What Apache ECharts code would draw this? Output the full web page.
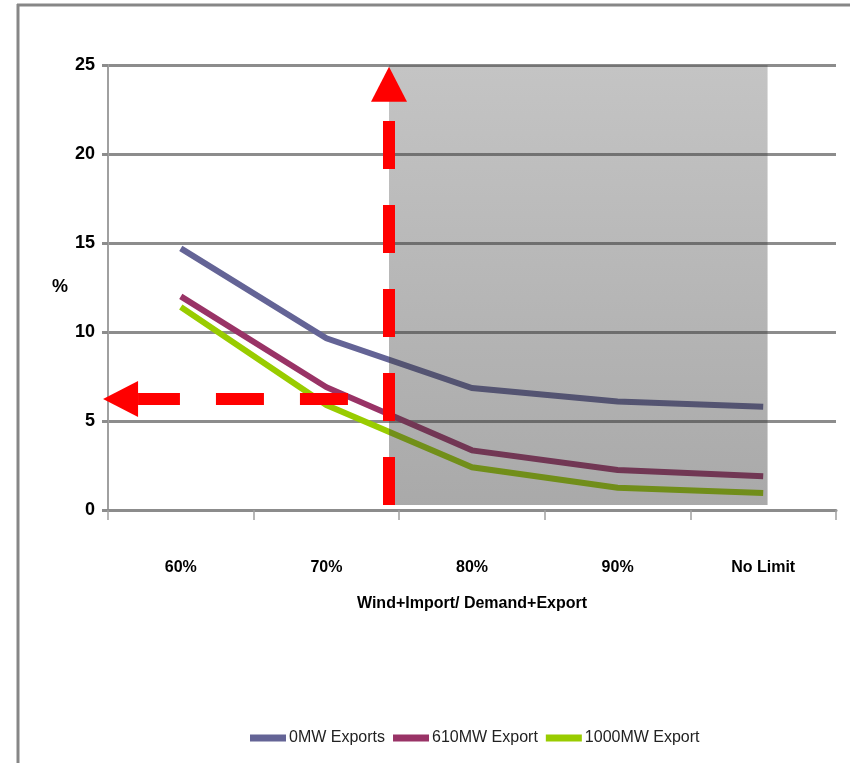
<!DOCTYPE html>
<html>
<head>
<meta charset="utf-8">
<title>Wind+Import / Demand+Export</title>
<script src="https://cdn.jsdelivr.net/npm/echarts@6/dist/echarts.min.js"></script>
<style>
  html, body { margin: 0; padding: 0; background: #ffffff; }
  #chart { width: 850px; height: 763px; }
</style>
</head>
<body>
<div id="chart"></div>
<script>
// Curtailment (%) against the Wind+Import / Demand+Export limit
const categories = ['60%', '70%', '80%', '90%', 'No Limit'];
const exports0MW = [14.7, 9.65, 6.85, 6.1, 5.8];
const exports610MW = [12.0, 6.9, 3.35, 2.25, 1.9];
const exports1000MW = [11.4, 5.9, 2.4, 1.25, 0.95];
const seriesNames = ['0MW Exports', '610MW Export', '1000MW Export'];
const yTicks = { min: 0, max: 25, interval: 5 };

// Annotations in axis units: x counts category bands (0..5), y is %.
const shadedRegion = [[1.93, 0.28, 4.53, 25]];
const arrows = [
  [1.93, 0.28, 1.93, 24.9],   // vertical arrow, tail -> tip
  [1.648, 6.24, -0.034, 6.24] // horizontal arrow, tail -> tip
];

const FONT = "'Liberation Sans Narrow', 'Liberation Sans', Arial, sans-serif";
const chart = echarts.init(document.getElementById('chart'), null, { renderer: 'canvas' });

// Dashed shaft + triangular head, measured in pixels along the arrow.
function renderArrow(params, api) {
  const p0 = api.coord([api.value(0), api.value(1)]);
  const p1 = api.coord([api.value(2), api.value(3)]);
  const dx = p1[0] - p0[0], dy = p1[1] - p0[1];
  const len = Math.sqrt(dx * dx + dy * dy);
  const ux = dx / len, uy = dy / len;
  const nx = -uy, ny = ux;
  const headLen = 35, headHalf = 18, shaftHalf = 6, dash = 48, gap = 36;
  const shaftLen = len - headLen;
  const pt = (s, o) => [p0[0] + ux * s + nx * o, p0[1] + uy * s + ny * o];
  const children = [];
  for (let s = 0; s < shaftLen; s += dash + gap) {
    const e = Math.min(s + dash, shaftLen);
    children.push({
      type: 'polygon',
      shape: { points: [pt(s, -shaftHalf), pt(e, -shaftHalf), pt(e, shaftHalf), pt(s, shaftHalf)] },
      style: { fill: '#ff0000' }
    });
  }
  children.push({
    type: 'polygon',
    shape: { points: [pt(shaftLen, -headHalf), pt(len, 0), pt(shaftLen, headHalf)] },
    style: { fill: '#ff0000' }
  });
  return { type: 'group', children: children };
}

function renderShade(params, api) {
  const a = api.coord([api.value(0), api.value(1)]);
  const b = api.coord([api.value(2), api.value(3)]);
  return {
    type: 'rect',
    shape: { x: a[0], y: b[1], width: b[0] - a[0], height: a[1] - b[1] },
    style: {
      fill: new echarts.graphic.LinearGradient(0, 0, 0, 1, [
        { offset: 0, color: 'rgba(60,60,60,0.30)' },
        { offset: 1, color: 'rgba(60,60,60,0.44)' }
      ])
    }
  };
}

const lineColors = ['#646496', '#993366', '#99cc00'];
const values = [exports0MW, exports610MW, exports1000MW];

const option = {
  animation: false,
  backgroundColor: '#ffffff',
  textStyle: { fontFamily: FONT },
  graphic: [
    { type: 'line', shape: { x1: 17, y1: 5, x2: 850, y2: 5 }, style: { stroke: '#878787', lineWidth: 3 }, silent: true },
    { type: 'line', shape: { x1: 18, y1: 4, x2: 18, y2: 763 }, style: { stroke: '#878787', lineWidth: 3 }, silent: true }
  ],
  grid: { left: 108, right: 14, top: 65, bottom: 253, containLabel: false },
  legend: {
    left: 245,
    top: 725,
    itemWidth: 36,
    itemHeight: 7,
    itemGap: 8,
    icon: 'rect',
    textStyle: { fontFamily: FONT, fontSize: 16, color: '#222222', padding: [0, 0, 0, -2] },
    data: seriesNames
  },
  xAxis: [
    {
      type: 'category',
      data: categories,
      boundaryGap: true,
      name: 'Wind+Import/ Demand+Export',
      nameLocation: 'middle',
      nameGap: 86,
      nameTextStyle: { fontFamily: FONT, fontSize: 16, fontWeight: 'bold', color: '#000000' },
      axisLine: { lineStyle: { color: '#8c8c8c', width: 3 } },
      axisTick: { show: true, length: 10, alignWithLabel: false, lineStyle: { color: '#a0a0a0', width: 1.5 } },
      axisLabel: { margin: 50, fontFamily: FONT, fontSize: 16, fontWeight: 'bold', color: '#000000' },
      splitLine: { show: false }
    },
    { type: 'value', min: 0, max: 5, show: false }
  ],
  yAxis: {
    type: 'value',
    min: yTicks.min,
    max: yTicks.max,
    interval: yTicks.interval,
    name: '%',
    nameLocation: 'middle',
    nameRotate: 0,
    nameGap: 40,
    nameTextStyle: { fontFamily: FONT, fontSize: 18, fontWeight: 'bold', color: '#000000', padding: [0, 0, 26, 0] },
    axisLine: { show: true, lineStyle: { color: '#a0a0a0', width: 2 } },
    axisTick: { show: true, length: 6, lineStyle: { color: '#8c8c8c', width: 3 } },
    axisLabel: { margin: 13, fontFamily: FONT, fontSize: 18, fontWeight: 'bold', color: '#000000' },
    splitLine: { show: true, lineStyle: { color: '#8c8c8c', width: 3 } }
  },
  series: seriesNames.map((name, i) => ({
    name: name,
    type: 'line',
    data: values[i],
    symbol: 'none',
    z: 2,
    color: lineColors[i],
    lineStyle: { color: lineColors[i], width: 6, cap: 'butt', join: 'miter' }
  })).concat([
    {
      type: 'custom',
      name: 'shade',
      xAxisIndex: 1,
      renderItem: renderShade,
      data: shadedRegion,
      z: 3,
      silent: true,
      clip: false
    },
    {
      type: 'custom',
      name: 'arrows',
      xAxisIndex: 1,
      renderItem: renderArrow,
      data: arrows,
      z: 4,
      silent: true,
      clip: false
    }
  ])
};

chart.setOption(option);
</script>
</body>
</html>
